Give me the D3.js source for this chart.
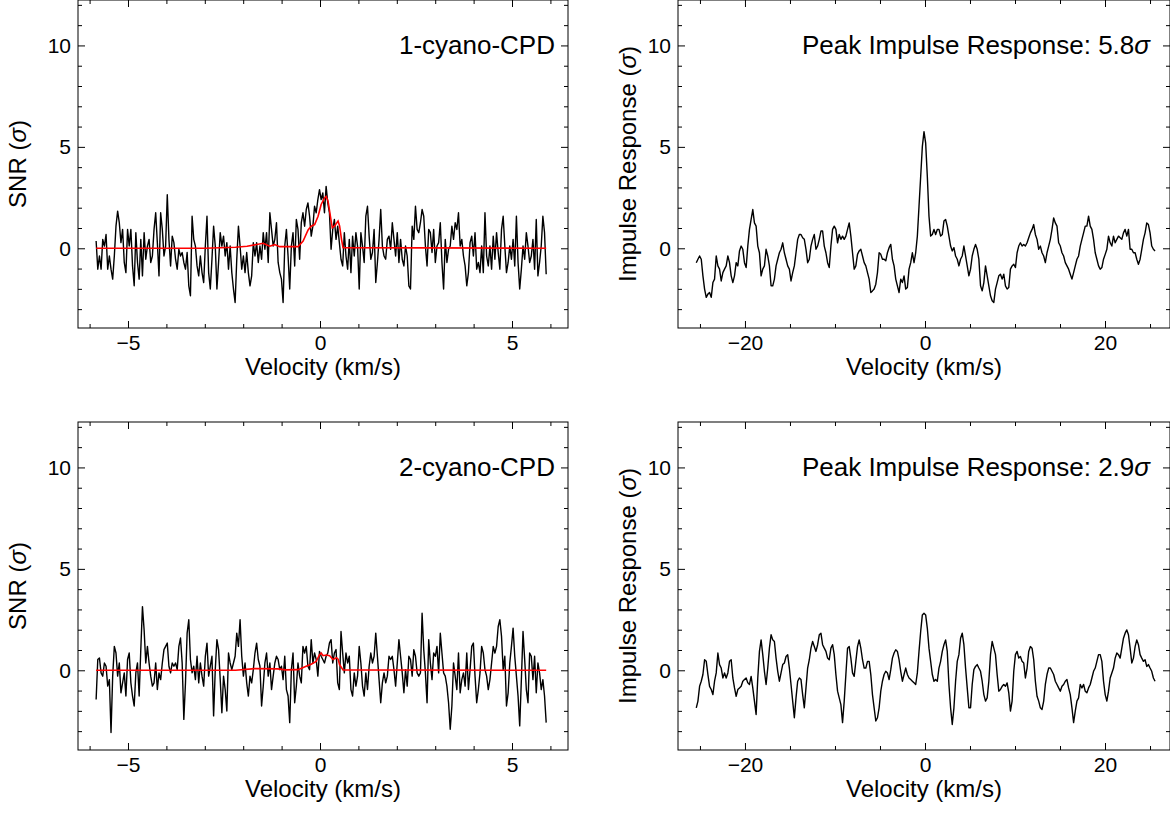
<!DOCTYPE html>
<html>
<head>
<meta charset="utf-8">
<script src="https://cdn.jsdelivr.net/npm/d3@7"></script>
<style>
  body { margin: 0; background: #fff; }
  svg text { font-family: "Liberation Sans", "DejaVu Sans", sans-serif; fill: #000; }
</style>
</head>
<body>
<div id="chart"></div>
<script>
// velocity span of the channels (km/s)
const narrowVelRange = [-5.83, 5.89];
const wideVelRange = [-25.41, 25.56];

// 1-cyano-CPD spectrum (SNR per channel)
const snr1 = [
  0.36, -1.03, -0.38, -1.03, 0.44, 0.11, 0.68, -1.03, -0.38, -1.03,
  -1.52, -0.38, 1.09, 1.83, 1.26, 0.28, 0.93, -0.70, -1.20, 0.93,
  0.11, 0.93, -0.87, -1.85, 0.77, -0.70, -1.52, 0.44, -1.36, 0.77,
  -0.54, 0.11, 0.44, -0.70, -0.38, 0.93, 1.75, 0.28, -1.36, 1.75,
  0.93, -0.38, 0.11, 2.64, 0.44, -0.87, 0.60, 0.28, -0.54, -1.03,
  -0.05, -0.38, -0.21, -0.70, -1.03, -0.21, -1.85, -2.34, 1.58, 0.44,
  0.11, -0.87, -1.36, -0.38, -1.20, -1.69, 0.11, 1.58, -1.20, -2.01,
  -0.54, 1.09, 0.11, -2.01, -0.70, 0.77, 0.11, 0.60, -0.38, 0.28,
  -1.03, 0.11, -1.20, -2.01, -2.67, -0.54, 1.09, 0.11, -1.03, -0.38,
  -1.20, -0.21,
  -1.20, -1.85, -1.36, 0.28, -0.38, 0.28, -0.70, 0.11, -0.54, 0.77,
  -0.05, 0.77, -0.70, 1.75, 0.93, 0.11, 0.44, 1.26, -0.70, -1.20,
  -1.52, -2.67, 0.11, 0.93, -0.38, -2.01, 0.11, 0.77, -0.87, 1.42,
  0.93, -0.54, 1.26, 1.75, 1.09, 1.91, 2.24, 1.58, 0.60, 1.09,
  2.07, 1.75, 2.40, 2.89, 2.40, 2.73, 1.75, 3.05, 2.24, 1.75,
  -0.05, 0.93, 1.42, 0.44, 1.09, 0.28, -0.54, -0.87, 0.77, -0.38,
  -1.03, 0.44, -1.20, 0.60, -0.38, 0.77, 0.11, -2.01, 0.77, 0.11,
  -0.70, 1.58, 2.07, 0.60, -0.54, -0.21, 0.93, -1.69, -0.70, 0.44,
  1.91, 0.11, -0.38, -0.54, 0.44, 0.60, -0.05, 1.26, 0.44, -0.38,
  0.77, -0.70, 0.44, -0.54,
  -0.87, 0.11, -0.38, -1.85, -2.01, 1.09, 0.44, 2.07, 0.93, 0.77,
  1.26, 1.91, 1.58, 0.11, -0.87, 0.93, 0.77, -0.21, 0.93, -0.70,
  0.11, 0.28, 1.26, -0.70, -2.01, 0.44, -0.70, -0.05, 0.11, 1.09,
  0.44, 1.26, 0.93, 1.75, 0.11, 0.44, -0.38, -0.87, -1.85, -1.20,
  0.28, 0.60, -0.38, 0.77, -1.03, -0.70, -1.20, 0.11, -1.20, 1.75,
  -0.38, -0.87, 0.11, -1.03, 0.60, -0.54, 0.77, -0.21, -1.03, 0.93,
  1.58, 0.11, -1.20, -0.70, 0.11, -0.54, 0.44, -0.87, 1.58, -0.70,
  -2.01, -1.03, 0.11, -0.54, 0.77, 0.11, -0.70, -0.38, 0.44, -1.03,
  1.42, -1.36, -0.70, 0.11, 1.58, 0.77, -1.28
];
const modelVel1 = [-5.83, -3.0, -2.2, -1.9, -1.48, -1.31, -1.18, -1.05, -0.57, -0.44, -0.31, -0.23, -0.14,
  -0.05, 0.03, 0.12, 0.16, 0.21, 0.27, 0.32, 0.38, 0.47, 0.51, 0.56, 0.60, 5.89];
const modelSnr1 = [0, 0, 0.05, 0.1, 0.25, 0.1, 0.18, 0.08, 0.08, 0.36, 0.9, 1.09, 1.17,
  1.58, 2.16, 2.48, 2.56, 2.32, 1.58, 1.01, 1.1, 1.34, 1.1, 0.44, 0.03, 0];

// 1-cyano-CPD matched-filter impulse response
const impulse1 = [
  -0.71, -0.54, -0.38, -0.54, -1.36, -2.01, -2.42, -2.26, -2.18, -2.42,
  -1.69, -1.52, -0.38, -0.87, -1.03, -1.61, -1.20, -1.03, -0.87, -0.38,
  -0.71, -1.36, -1.69, -1.36, -0.71, -0.87, -0.13, 0.11, -0.05, -0.71,
  -0.95, 0.11, 0.93, 1.42, 1.91, 1.25, 1.09, 0.11, -0.22, -1.36,
  -1.03, -0.87, -0.05, -0.38, -0.87, -1.85, -1.85, -1.52, -0.87, -0.54,
  -0.22, -0.05, 0.27, -0.22, -0.54, -0.87, -1.03, -1.61, -1.20, -0.87,
  -0.22, 0.44, 0.68, 0.68, 0.52, 0.44, -0.05, -0.71, -0.54, 0.11,
  0.44, 0.68, -0.05, 0.11, 0.44, 0.85, 0.85, 0.11, -0.22, -0.71,
  -0.95, 0.11, 0.93, 1.09, 0.93, 0.27, 0.68, 0.44, 0.60, 0.44,
  0.60, 0.93,
  1.25, 0.60, -0.22, -1.03, -0.87, -0.30, -0.13, -0.05, -0.38, -0.71,
  -0.87, -1.20, -1.52, -2.18, -2.10, -2.01, -1.77, -1.20, -0.22, -0.30,
  -0.54, -0.54, -0.62, -0.22, 0.03, 0.19, -0.54, -0.87, -1.52, -1.85,
  -2.18, -1.52, -1.69, -1.36, -2.01, -1.93, -1.03, -0.71, -0.22, -0.71,
  -0.22, 0.60, 2.07, 3.54, 5.01, 5.75, 5.18, 3.54, 1.58, 0.60,
  0.68, 0.93, 0.68, 0.93, 0.93, 0.60, 0.68, 1.34, 1.42, 1.09,
  0.60, 0.11, -0.13, 0.03, -0.38, -0.54, -0.87, -0.54, -0.38, 0.11,
  -0.38, -0.87, -1.36, -1.03, -0.38, -0.05, 0.19, -0.05, -0.54, -1.85,
  -2.10, -1.69, -0.87, -1.36, -1.85, -2.34, -2.59, -2.67, -2.01, -1.69,
  -1.36, -1.28, -1.52, -1.28,
  -1.85, -2.01, -1.93, -1.03, -0.87, -0.79, -0.95, -0.22, 0.11, 0.27,
  0.11, 0.19, 0.11, 0.27, 0.52, 0.76, 0.93, 1.17, 0.68, 0.44,
  -0.05, 0.11, -0.22, -0.38, -0.71, -0.22, 0.11, 0.44, 0.93, 1.50,
  1.25, 1.09, 0.27, 0.11, -0.22, -0.38, -0.71, -0.87, -1.03, -1.28,
  -1.52, -1.20, -0.87, -0.54, -0.38, 0.11, 0.44, 0.76, 1.09, 1.09,
  1.58, 1.09, 0.93, 0.44, -0.22, -0.54, -0.87, -1.03, -0.95, -0.54,
  -0.30, -0.05, 0.60, 0.27, 0.11, 0.60, 0.27, 0.44, 0.60, 0.52,
  0.44, 0.76, 0.93, 0.60, 0.93, -0.05, -0.05, -0.22, -0.22, -0.54,
  -0.79, -0.54, -0.05, 0.44, 0.76, 1.25, 1.17, 0.76, 0.11, -0.05,
  -0.13
];

// 2-cyano-CPD spectrum (SNR per channel)
const snr2 = [
  -1.44, 0.53, 0.61, -0.13, -0.29, 0.36, 0.20, -0.78, -0.46, -3.07,
  -0.29, 1.18, 0.85, -0.29, 0.36, -1.11, -0.62, -0.13, -1.27, 0.53,
  0.85, -0.62, -1.27, -1.76, -0.13, 0.36, -1.27, 1.02, 3.14, 2.00,
  0.36, 1.18, 0.36, -0.29, -0.78, -0.62, 0.36, -0.95, -0.13, -0.46,
  0.36, 1.02, 1.18, 1.34, 0.20, -0.13, 0.36, 0.20, 0.36, 0.03,
  1.18, 1.59, 0.36, -2.42, -0.62, 1.83, 2.49, 0.53, -0.13, 0.20,
  -0.46, 0.69, -0.62, 0.36, -0.29, -0.78, 0.69, 1.34, -0.29, 0.20,
  0.69, -2.25, 0.03, 1.51, 1.02, -0.46, -2.09, -0.29, -0.95, -2.01,
  0.85, 0.36, 0.03, 0.36, 0.69, 1.83, 1.18, 2.49, 0.69, -0.29,
  0.36, -0.62,
  -1.27, -0.29, -0.62, 0.03, 0.85, 1.34, 0.53, 0.20, -1.76, -0.78,
  0.36, 0.85, -0.29, 0.36, -0.95, -0.29, 0.36, 0.69, 0.53, 0.03,
  0.20, -0.46, 0.69, -0.95, -1.27, -2.58, 0.03, 0.85, -1.60, -0.78,
  0.36, -0.29, -0.62, 1.18, 0.85, 1.18, 0.20, 0.03, 1.51, 0.36,
  0.85, 0.53, -0.29, 0.93, 0.69, 0.53, 0.36, 0.69, 0.85, 1.34,
  1.51, 0.36, 0.85, 1.02, -0.62, -0.95, 1.91, 0.85, -0.13, 0.85,
  0.36, 0.69, -0.95, -1.27, -0.13, -0.78, -0.29, 1.18, 0.36, -0.78,
  -1.27, -0.13, -0.95, 0.20, 0.85, 0.36, 0.69, 1.83, 0.69, -0.46,
  -1.60, -0.62, -0.13, -0.62, -0.29, 0.69, 0.53, 0.69, 0.03, -0.78,
  0.36, 1.51, 0.69, -0.13,
  -1.11, 0.03, -0.78, 0.69, 0.53, -0.29, 1.02, 0.69, -0.13, -0.29,
  -0.13, 2.81, 1.02, -0.13, -1.60, 1.51, 0.36, -0.46, 0.85, 0.69,
  1.18, -0.13, 1.83, 0.85, -0.13, -0.29, -0.78, -1.60, -2.91, -1.76,
  0.36, -0.29, -0.95, 0.85, -1.11, -0.46, -0.13, -0.78, 0.85, -0.95,
  0.03, 1.18, 1.34, -0.29, -1.60, -0.95, -0.13, 1.18, 0.85, 0.03,
  -0.29, -0.95, -0.46, 0.36, 1.18, 0.85, 1.18, 2.16, 2.49, 1.67,
  0.03, 0.69, -1.76, -1.11, 0.36, 1.18, 2.08, 0.69, -0.29, -1.27,
  -2.74, -0.46, 1.91, 0.53, -0.95, -1.60, 0.85, 0.69, -0.46, 0.69,
  -1.11, 0.36, -0.13, -0.95, -0.46, -1.27, -2.58
];
const modelVel2 = [-5.83, -2.2, -1.7, -1.1, -0.9, -0.57, -0.36, -0.23, -0.10, -0.01,
  0.03, 0.08, 0.16, 0.25, 0.34, 0.43, 0.47, 0.51, 0.60, 5.89];
const modelSnr2 = [0, 0, 0.08, 0.07, 0.02, 0.03, 0.2, 0.3, 0.44, 0.77,
  0.85, 0.72, 0.75, 0.72, 0.53, 0.62, 0.55, 0.28, 0.02, 0];

// 2-cyano-CPD matched-filter impulse response
const impulse2 = [
  -1.85, -1.52, -0.79, -0.54, -0.21, 0.52, 0.44, -0.21, -0.79, -0.95,
  -1.20, -0.54, -0.13, 0.85, 0.28, 0.11, -0.38, -0.13, -0.38, -0.13,
  0.44, 0.52, -0.38, -0.87, -1.28, -0.95, -0.87, -0.79, -0.54, -0.46,
  -0.38, -0.62, -0.70, -0.30, -0.87, -1.52, -2.18, -0.38, 0.93, 1.50,
  0.77, -0.05, -0.70, 0.11, 1.09, 1.75, 1.50, 1.42, 0.60, -0.05,
  -0.54, -0.13, 0.28, 0.36, 0.68, 0.77, 0.11, -0.70, -1.52, -2.34,
  -1.36, -0.54, -0.38, -0.46, -1.20, -1.85, -0.87, 0.11, 0.52, 1.09,
  1.42, 1.17, 0.93, 1.26, 1.75, 1.83, 1.26, 1.09, 0.93, 0.60,
  0.52, 1.09, 1.26, 0.77, -0.21, -1.03, -1.36, -1.69, -2.58, -1.52,
  -0.21, 1.09,
  1.17, 0.60, -0.13, -0.30, 0.44, 1.17, 1.50, 1.09, 0.52, 0.11,
  0.11, 0.44, 0.44, -0.21, -1.20, -1.85, -2.50, -2.34, -1.85, -1.03,
  -0.54, -0.21, -0.05, -0.13, -0.46, 0.03, 0.60, 0.85, 1.01, 0.93,
  0.52, -0.05, -0.54, -0.21, 0.11, -0.21, -0.38, -0.46, -0.54, -0.62,
  -0.70, -0.13, 0.93, 1.91, 2.73, 2.81, 2.73, 2.07, 1.09, 0.44,
  -0.21, -0.54, -0.46, -0.54, 0.11, 0.44, 0.93, 1.26, 1.50, 0.93,
  -0.70, -1.85, -2.67, -1.85, -0.54, 0.44, 0.77, 1.58, 1.83, 1.26,
  0.11, -0.87, -1.85, -1.85, -0.70, 0.03, 0.19, 0.28, 0.11, -0.05,
  -0.54, -1.20, -1.52, -1.36, -0.54, 0.77, 1.42, 1.09, 0.77, -0.21,
  -1.03, -0.95, -0.79, -0.70,
  -0.79, -0.62, -1.11, -2.01, -1.52, -0.05, 0.77, 0.93, 0.60, 0.68,
  0.44, 0.36, -0.38, 0.11, 0.93, 1.17, 1.09, 0.52, -0.54, -1.28,
  -1.52, -1.85, -1.93, -1.52, -0.70, -0.21, 0.11, 0.11, -0.05, -0.21,
  -0.54, -0.70, -0.87, -1.03, -0.79, -0.70, -0.54, -0.46, -0.87, -1.20,
  -1.85, -2.58, -2.01, -1.52, -1.36, -0.70, -0.87, -0.70, -1.03, -1.11,
  -0.87, -0.70, -0.38, -0.05, 0.11, 0.44, 0.77, 0.77, 0.44, -0.54,
  -1.20, -1.52, -1.03, -0.38, -0.13, 0.11, 0.60, 0.85, 0.77, 0.60,
  1.09, 1.58, 1.83, 1.99, 1.75, 1.09, 0.36, 0.60, 1.17, 1.50,
  1.26, 0.77, 0.60, 0.44, 0.52, 0.19, 0.28, 0.11, -0.05, -0.38,
  -0.54
];

const yMajor = [0, 5, 10];
const yMinor = d3.range(-3, 13).filter(d => d % 5 !== 0);
const narrowMajor = [-5, 0, 5];
const narrowMinor = d3.range(-6, 7).filter(d => d % 5 !== 0);
const wideMajor = [-20, 0, 20];
const wideMinor = [-25, -15, -10, -5, 5, 10, 15, 25];


class PanelVis {
    constructor(svg, config) {
        this.svg = svg;
        this.config = config;

        this.initVis();
    }

    initVis() {
        const vis = this;
        const c = vis.config;

        vis.g = vis.svg.append("g")
            .attr("transform", `translate(${c.left}, ${c.top})`);

        vis.x = d3.scaleLinear().domain(c.xDomain).range([0, c.width]);
        vis.y = d3.scaleLinear().domain([-3.93, 12.24]).range([c.height, 0]);

        vis.wrangleData();
    }

    wrangleData() {
        const vis = this;
        const c = vis.config;
        const n = c.values.length;
        const step = (c.velRange[1] - c.velRange[0]) / (n - 1);

        vis.trace = c.values.map((s, i) => ({ v: c.velRange[0] + i * step, s: s }));
        vis.model = c.modelVel ? c.modelVel.map((v, i) => ({ v: v, s: c.modelSnr[i] })) : null;

        vis.updateVis();
    }

    updateVis() {
        const vis = this;
        const c = vis.config;

        // ticks point inward on all four sides
        const addAxis = (axisFn, scale, values, size, transform, labels) => {
            const ax = axisFn(scale).tickValues(values).tickSizeInner(-size).tickSizeOuter(0)
                .tickPadding(labels ? 7 : 0);
            if (!labels) ax.tickFormat("");
            const g = vis.g.append("g").attr("transform", transform).call(ax);
            g.select(".domain").remove();
            g.selectAll("line").attr("stroke", "#000").attr("stroke-width", 1);
            g.selectAll("text").style("font-size", "21px").attr("fill", "#000");
            return g;
        };

        addAxis(d3.axisBottom, vis.x, c.xMajor, 7, `translate(0, ${c.height})`, true);
        addAxis(d3.axisBottom, vis.x, c.xMinor, 4, `translate(0, ${c.height})`, false);
        addAxis(d3.axisTop, vis.x, c.xMajor, 7, "translate(0, 0)", false);
        addAxis(d3.axisTop, vis.x, c.xMinor, 4, "translate(0, 0)", false);
        addAxis(d3.axisLeft, vis.y, yMajor, 7, "translate(0, 0)", true);
        addAxis(d3.axisLeft, vis.y, yMinor, 4, "translate(0, 0)", false);
        addAxis(d3.axisRight, vis.y, yMajor, 7, `translate(${c.width}, 0)`, false);
        addAxis(d3.axisRight, vis.y, yMinor, 4, `translate(${c.width}, 0)`, false);

        vis.g.append("rect")
            .attr("width", c.width)
            .attr("height", c.height)
            .attr("fill", "none")
            .attr("stroke", "#000")
            .attr("stroke-width", 1);

        const line = d3.line()
            .x(d => vis.x(d.v))
            .y(d => vis.y(d.s));

        vis.g.append("path")
            .datum(vis.trace)
            .attr("d", line)
            .attr("fill", "none")
            .attr("stroke", "#000")
            .attr("stroke-width", 1.4)
            .attr("stroke-linejoin", "round");

        if (vis.model) {
            vis.g.append("path")
                .datum(vis.model)
                .attr("d", line)
                .attr("fill", "none")
                .attr("stroke", "#ff0000")
                .attr("stroke-width", 1.6);
        }

        // annotation in the upper right corner
        const note = vis.g.append("text")
            .attr("x", c.width - c.noteInset)
            .attr("y", 54)
            .attr("text-anchor", "end")
            .style("font-size", "26px")
            .text(c.note);
        if (c.noteSigma) {
            note.append("tspan").style("font-style", "italic").text("σ");
        }

        vis.g.append("text")
            .attr("x", c.width / 2)
            .attr("y", c.height + 47)
            .attr("text-anchor", "middle")
            .style("font-size", "24px")
            .text("Velocity (km/s)");

        const yl = vis.g.append("text")
            .attr("transform", `translate(${c.yLabelX}, ${c.height / 2}) rotate(-90)`)
            .attr("text-anchor", "middle")
            .attr("dy", "0.35em")
            .style("font-size", "24px")
            .text(c.yLabel + " (");
        yl.append("tspan").style("font-style", "italic").text("σ");
        yl.append("tspan").text(")");
    }
}

const svg = d3.select("#chart").append("svg")
    .attr("width", 1170)
    .attr("height", 814);

const panels = [
    { left: 78, top: 0, width: 490, height: 328, xDomain: [-6.302, 6.458], velRange: narrowVelRange,
      values: snr1, modelVel: modelVel1, modelSnr: modelSnr1, xMajor: narrowMajor, xMinor: narrowMinor,
      note: "1-cyano-CPD", noteInset: 13, yLabel: "SNR", yLabelX: -60 },
    { left: 678, top: 0, width: 492, height: 328, xDomain: [-27.44, 27.22], velRange: wideVelRange,
      values: impulse1, xMajor: wideMajor, xMinor: wideMinor,
      note: "Peak Impulse Response: 5.8", noteSigma: true, noteInset: 20, yLabel: "Impulse Response", yLabelX: -50 },
    { left: 78, top: 422, width: 490, height: 328, xDomain: [-6.302, 6.458], velRange: narrowVelRange,
      values: snr2, modelVel: modelVel2, modelSnr: modelSnr2, xMajor: narrowMajor, xMinor: narrowMinor,
      note: "2-cyano-CPD", noteInset: 13, yLabel: "SNR", yLabelX: -60 },
    { left: 678, top: 422, width: 492, height: 328, xDomain: [-27.44, 27.22], velRange: wideVelRange,
      values: impulse2, xMajor: wideMajor, xMinor: wideMinor,
      note: "Peak Impulse Response: 2.9", noteSigma: true, noteInset: 20, yLabel: "Impulse Response", yLabelX: -50 }
];

panels.forEach(p => new PanelVis(svg, p));
</script>
</body>
</html>
